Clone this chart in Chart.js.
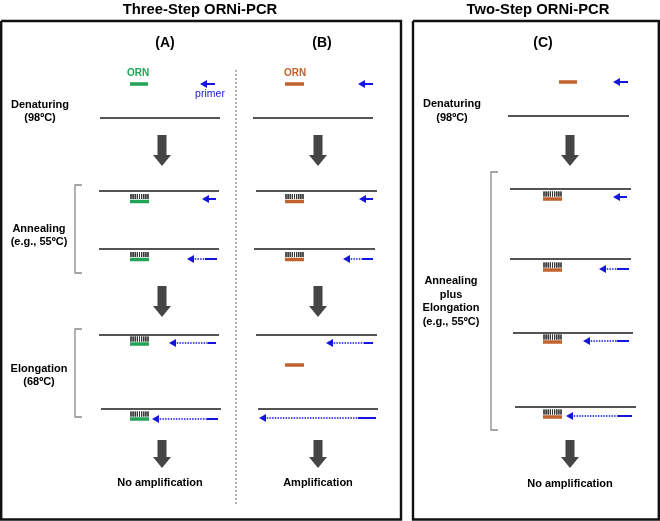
<!DOCTYPE html>
<html><head><meta charset="utf-8">
<script src="https://cdn.jsdelivr.net/npm/chart.js@4/dist/chart.umd.min.js"></script>
<style>html,body{margin:0;padding:0;background:#fff}#wrap{width:660px;height:521px;position:relative}</style>
</head><body><div id="wrap"><canvas id="c" width="660" height="521"></canvas></div>
<script>
// ---- texts ----
const titles = ["Three-Step ORNi-PCR", "Two-Step ORNi-PCR"];
const panelLabels = ["(A)", "(B)", "(C)"];
const denaturingLabel = ["Denaturing", "(98ºC)"];
const annealingLabel = ["Annealing", "(e.g., 55ºC)"];
const elongationLabel = ["Elongation", "(68ºC)"];
const combinedLabel = ["Annealing", "plus", "Elongation", "(e.g., 55ºC)"];
const outcomeLabels = ["No amplification", "Amplification", "No amplification"];
const ornLabel = "ORN";
const primerLabel = "primer";

// ---- diagram elements (diagram units = x 0..660, y 0..521) ----
// template strands: [x start, x end, y]
const templateStrands = [[100,220,118],[253,373,118],[508,629,116],
  [99,219,191],[99,219,249],[99,219,335],[101,221,409],
  [256,377,191],[254,375,249],[256,377,335],[258,378,409],
  [510,631,189],[510,631,259],[513,633,333],[515,636,407]];
// ORN: [x start, x end, y, bound to template]
const greenORN = [[130,148,84,false],[130,149,201.5,true],[130,149,259.5,true],[130,149,344,true],[130,149,419,true]];
const brownORN = [[285,304,84,false],[285,304,201.5,true],[285,304,259.5,true],[285,304,365,false],
  [559,577,82,false],[543,562,199,true],[543,562,270,true],[543,562,342,true],[543,562,417,true]];
// primers: [head x, tail x, y, start of primer (solid) part]
const primers = [[200,215,84,205],[358,373,84,363],[613,628,82,618],
  [202,216,199,207],[187,217,259,205],[169,216,343,208],[152,218,419,207],
  [359,373,199,364],[343,373,259,362],[326,373,343,364],[259,376,418,358],
  [613,627,197,618],[599,629,269,617],[583,629,341,617],[566,632,416,618]];
// step arrows: [x, top y, tip y]
const stepArrows = [[162,135,166],[318,135,166],[570,135,166],
  [162,286,317],[318,286,317],[162,440,468],[318,440,468],[570,440,468]];
// brackets: [x, top y, bottom y]
const brackets = [[75,185,273],[75,329,417],[491,172,430]];
// boxes: [x0, y0, x1, y1]
const boxes = [[1.2,21,401,519.5],[413,21,658.8,519.5]];
const divider = [236,70,506];

// ---- builders ----
const GAP = (x) => ({x: x, y: null});
function joinPolys(polys){
  const out = [];
  polys.forEach(p => { p.forEach(([x,y]) => out.push({x, y})); out.push(GAP(p[0][0])); });
  return out;
}
const strandPolys = templateStrands.map(([a,b,y]) => [[a,y],[b,y]]);
const barPolys = (list) => list.map(([a,b,y]) => [[a,y],[b,y]]);
const hatchPolys = [];
greenORN.concat(brownORN).forEach(([a,b,y,bound]) => {
  if (!bound) return;
  for (let i = 0; i < 9; i++) {
    const x = a + 1 + i * (b - a - 2) / 8;
    hatchPolys.push([[x, y - 7.5], [x, y - 2.5]]);
  }
});
const primerSolid = primers.map(([h,t,y,s]) => [[Math.max(s, h + 5), y], [t, y]]);
const primerExt = primers.filter(([h,t,y,s]) => s > h + 6).map(([h,t,y,s]) => [[h + 5, y], [s, y]]);
const primerHeads = primers.map(([h,t,y]) => [[h,y],[h+7,y-4],[h+7,y+4],[h,y]]);
const arrowPolys = stepArrows.map(([x,t,b]) => [[x-4.5,t],[x+4.5,t],[x+4.5,b-11],[x+9,b-11],[x,b],[x-9,b-11],[x-4.5,b-11],[x-4.5,t]]);
const bracketPolys = brackets.map(([x,t,b]) => [[x+7,t],[x,t],[x,b],[x+7,b]]);
const boxPolys = boxes.map(([a,t,b,u]) => [[a,t],[b,t],[b,u],[a,u],[a,t]]);

const GREEN = '#22a457', BROWN = '#c1612c', BLUE = '#1515e0';
function lineDs(data, color, width, extra){
  return Object.assign({data, borderColor: color, borderWidth: width, pointRadius: 0, pointHoverRadius: 0,
    pointHitRadius: 0, fill: false, tension: 0, spanGaps: false, borderCapStyle: 'butt', borderJoinStyle: 'miter'}, extra || {});
}
function shapeDs(data, color){
  return lineDs(data, 'rgba(0,0,0,0)', 1, {fill: 'shape', backgroundColor: color});
}

const datasets = [
  lineDs(joinPolys(boxPolys), '#111', 2.4),
  lineDs(joinPolys([[[divider[0],divider[1]],[divider[0],divider[2]]]]), '#666', 1, {borderDash: [2,2]}),
  lineDs(joinPolys(bracketPolys), '#888', 1.3),
  lineDs(joinPolys(strandPolys), '#1c1c1c', 1.7),
  lineDs(joinPolys(hatchPolys), '#333', 0.9),
  lineDs(joinPolys(barPolys(greenORN)), GREEN, 3.4),
  lineDs(joinPolys(barPolys(brownORN)), BROWN, 3.4),
  lineDs(joinPolys(primerSolid), BLUE, 2),
  lineDs(joinPolys(primerExt), BLUE, 1.6, {borderDash: [1.5,1.2]}),
  shapeDs(joinPolys(primerHeads), BLUE),
  shapeDs(joinPolys(arrowPolys), '#454545')
];

const FONT = "'Liberation Sans', Arial, sans-serif";
const textItems = [
  [titles[0], 200, 10, 'bold 14.8px', '#000'], [titles[1], 538, 10, 'bold 14.8px', '#000'],
  [panelLabels[0], 165, 43, 'bold 14px', '#000'], [panelLabels[1], 322, 43, 'bold 14px', '#000'], [panelLabels[2], 543, 43, 'bold 14px', '#000'],
  [ornLabel, 138, 73, 'bold 10px', GREEN], [ornLabel, 295, 73, 'bold 10px', BROWN],
  [primerLabel, 210, 94, '10.5px', BLUE],
  [denaturingLabel[0], 40, 105, 'bold 11px', '#000'], [denaturingLabel[1], 40, 118, 'bold 11px', '#000'],
  [denaturingLabel[0], 452, 104, 'bold 11px', '#000'], [denaturingLabel[1], 452, 118, 'bold 11px', '#000'],
  [annealingLabel[0], 39, 229, 'bold 11px', '#000'], [annealingLabel[1], 39, 242, 'bold 11px', '#000'],
  [elongationLabel[0], 39, 369, 'bold 11px', '#000'], [elongationLabel[1], 39, 382, 'bold 11px', '#000'],
  [combinedLabel[0], 451, 281, 'bold 11px', '#000'], [combinedLabel[1], 451, 295, 'bold 11px', '#000'],
  [combinedLabel[2], 451, 308, 'bold 11px', '#000'], [combinedLabel[3], 451, 322, 'bold 11px', '#000'],
  [outcomeLabels[0], 160, 483, 'bold 11px', '#000'], [outcomeLabels[1], 318, 483, 'bold 11px', '#000'], [outcomeLabels[2], 570, 484, 'bold 11px', '#000']
];

const textPlugin = {
  id: 'diagramText',
  afterDatasetsDraw(chart){
    const {ctx, scales: {x, y}} = chart;
    ctx.save();
    ctx.textAlign = 'center';
    ctx.textBaseline = 'middle';
    textItems.forEach(([t, tx, ty, f, c]) => {
      ctx.font = f + ' ' + FONT;
      ctx.fillStyle = c;
      ctx.fillText(t, x.getPixelForValue(tx), y.getPixelForValue(ty));
    });
    ctx.restore();
  }
};

new Chart(document.getElementById('c'), {
  type: 'line',
  data: {datasets},
  options: {
    responsive: false, animation: false, events: [],
    layout: {padding: 0},
    scales: {
      x: {type: 'linear', min: 0, max: 660, display: false},
      y: {type: 'linear', min: 0, max: 521, reverse: true, display: false}
    },
    plugins: {legend: {display: false}, tooltip: {enabled: false}, title: {display: false}}
  },
  plugins: [textPlugin]
});
</script></body></html>
